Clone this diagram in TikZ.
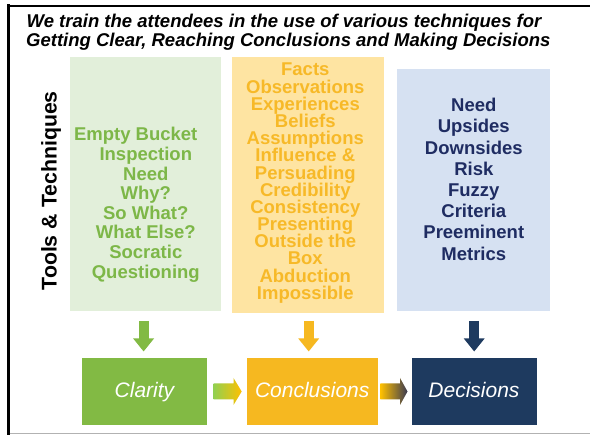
\documentclass[tikz,border=0pt]{standalone}
\usepackage{fontspec}
\setmainfont{Liberation Sans}
\usetikzlibrary{arrows.meta}
\definecolor{greenbg}{RGB}{226,239,218}
\definecolor{greentext}{RGB}{125,183,72}
\definecolor{greenbox}{RGB}{130,186,68}
\definecolor{orangebg}{RGB}{254,228,162}
\definecolor{orangetext}{RGB}{247,185,40}
\definecolor{orangebox}{RGB}{246,184,32}
\definecolor{bluebg}{RGB}{214,225,242}
\definecolor{bluetext}{RGB}{31,44,98}
\definecolor{navybox}{RGB}{30,58,95}
\definecolor{lightgreen}{RGB}{146,208,80}
\definecolor{gold}{RGB}{255,192,0}
\definecolor{darkgrey}{RGB}{58,58,82}
\begin{document}
\begin{tikzpicture}[x=1pt,y=-1pt,
  panel/.style={rectangle, inner sep=0pt, outer sep=0pt, anchor=north west, draw=none},
  ptext/.style={font=\fontsize{18.5}{18}\selectfont\bfseries, inner sep=0pt, anchor=base},
  titletext/.style={font=\fontsize{18.5}{20}\selectfont\bfseries\itshape, inner sep=0pt, anchor=base west},
  stage/.style={rectangle, inner sep=0pt, outer sep=0pt, anchor=north west, minimum height=67pt,
    text=white, font=\fontsize{21}{24}\selectfont\itshape, text height=15.5pt, text depth=3pt},
  downarrow/.style={line width=10pt, -{Triangle[width=20pt,length=13pt]}},
]
\useasboundingbox (0,0) rectangle (590,435);
\fill[white] (0,0) rectangle (590,435);
% frame
\draw[line width=2.5pt] (7,5.8) -- (590,5.8);
\draw[line width=3pt] (8.3,4.5) -- (8.3,435);
\draw[line width=1.5pt, black!30] (9.8,433.3) -- (590,433.3);
% title
\node[titletext] (t1) at (26.5,27.3) {We train the attendees in the use of various techniques for};
\node[titletext] (t2) at (26,46.7) {Getting Clear, Reaching Conclusions and Making Decisions};
% side label
\node[font=\fontsize{21.3}{24}\selectfont\bfseries, rotate=90, anchor=base, inner sep=0pt] (tt) at (56.5,190.8) {Tools \& Techniques};
% panels
\node[panel, fill=greenbg, minimum width=151pt, minimum height=254pt] (gp) at (69.5,57) {};
\node[panel, fill=orangebg, minimum width=152pt, minimum height=256pt] (op) at (232,57) {};
\node[panel, fill=bluebg, minimum width=153pt, minimum height=242pt] (bp) at (397,69) {};
% panel texts
\foreach \xx/\t [count=\i] in {135.7/Empty Bucket, 145.8/Inspection, 145.8/Need, 145.8/Why?, 145.8/So What?, 145.8/What Else?, 145.8/Socratic, 145.8/Questioning}
  \node[ptext, text=greentext] (g\i) at (\xx, {140.7+19.66*(\i-1)}) {\t};
\foreach \t [count=\i] in {Facts, Observations, Experiences, Beliefs, Assumptions, Influence \&, Persuading, Credibility, Consistency, Presenting, Outside the, Box, Abduction, Impossible}
  \node[ptext, text=orangetext] (o\i) at (305.3, {76+17.18*(\i-1)}) {\t};
\foreach \t [count=\i] in {Need, Upsides, Downsides, Risk, Fuzzy, Criteria, Preeminent, Metrics}
  \node[ptext, text=bluetext] (b\i) at (473.8, {111.7+21.19*(\i-1)}) {\t};
% stage boxes
\node[stage, fill=greenbox, minimum width=125pt] (clarity) at (82,358) {Clarity};
\node[stage, fill=orangebox, minimum width=131pt] (concl) at (246.7,358) {Conclusions};
\node[stage, fill=navybox, minimum width=125pt] (decis) at (411.5,358) {Decisions};
% down arrows
\draw[downarrow, greenbox, shorten <=10pt, shorten >=6.5pt] ([xshift=-1.4pt]gp.south) -- ([xshift=-1.4pt]gp.south |- clarity.north);
\draw[downarrow, orangebox, shorten <=8pt, shorten >=6.5pt] ([xshift=0.7pt]op.south) -- ([xshift=0.7pt]op.south |- concl.north);
\draw[downarrow, navybox, shorten <=10pt, shorten >=6.5pt] ([xshift=0.7pt]bp.south) -- ([xshift=0.7pt]bp.south |- decis.north);
% gradient arrows
\shade[left color=lightgreen, right color=gold]
  ([shift={(6.5pt,8pt)}]clarity.east) -- ([shift={(-13.2pt,8pt)}]concl.west)
  -- ([shift={(-13.2pt,13.5pt)}]concl.west) -- ([xshift=-5pt]concl.west)
  -- ([shift={(-13.2pt,-13.5pt)}]concl.west) -- ([shift={(-13.2pt,-8pt)}]concl.west)
  -- ([shift={(6.5pt,-8pt)}]clarity.east) -- cycle;
\shade[left color=gold, right color=darkgrey]
  ([shift={(2.6pt,8pt)}]concl.east) -- ([shift={(-11.5pt,8pt)}]decis.west)
  -- ([shift={(-11.5pt,13.5pt)}]decis.west) -- ([xshift=-4pt]decis.west)
  -- ([shift={(-11.5pt,-13.5pt)}]decis.west) -- ([shift={(-11.5pt,-8pt)}]decis.west)
  -- ([shift={(2.6pt,-8pt)}]concl.east) -- cycle;
\end{tikzpicture}
\end{document}
